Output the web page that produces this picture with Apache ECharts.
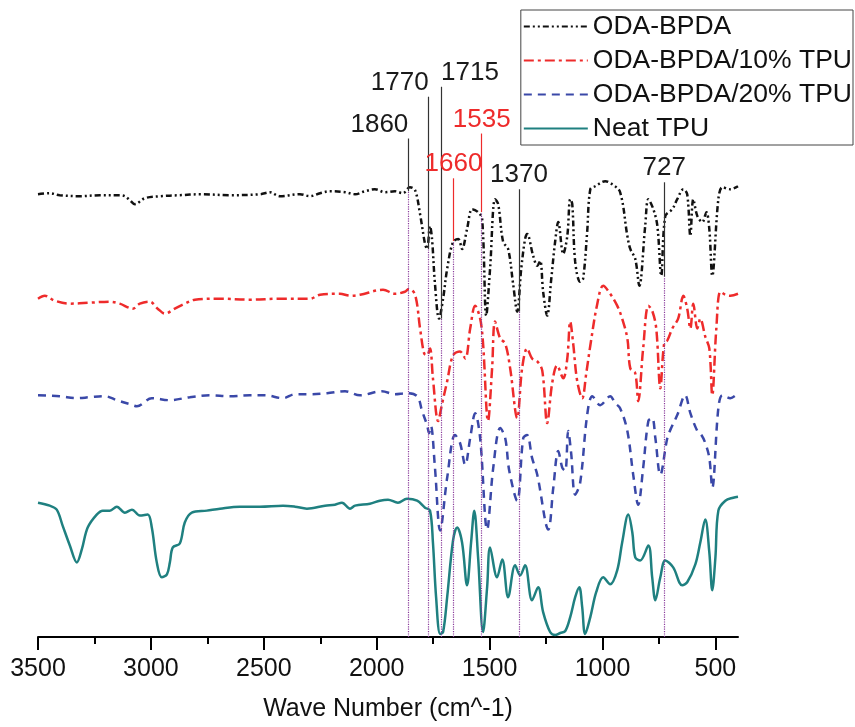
<!DOCTYPE html>
<html style="height: 100%">
  <head>
    <meta charset="utf-8" />
  </head>
  <body style="height: 100%; margin: 0; background: #fff">
    <div id="container" style="width: 855px; height: 727px"></div>
    <script
      type="text/javascript"
      src="https://cdn.jsdelivr.net/npm/echarts@6.0.0/dist/echarts.min.js"
    ></script>

    <script type="text/javascript">
      var FONT = '"Liberation Sans", Arial, sans-serif';

      var seriesNames = ["ODA-BPDA", "ODA-BPDA/10% TPU", "ODA-BPDA/20% TPU", "Neat TPU"];

      // [wave number, offset transmittance]
      // prettier-ignore
      var odaBpda = [[3500,89],[3448,89.2],[3404,88.8],[3315,88.6],[3226,88.8],[3138,88.8],[3115,88.6],[3093,87.8],[3071,87],[3027,88.2],[2960,88.6],[2872,88.8],[2783,89],[2650,88.8],[2517,89],[2473,89.4],[2429,88.6],[2340,89],[2296,88.6],[2251,89.2],[2207,89.6],[2140,89.4],[2096,89],[2052,89.6],[2008,90],[1963,89.4],[1919,89.6],[1884,89.2],[1853,90.4],[1830,89.8],[1808,85],[1786,79],[1777,78],[1764,82.6],[1755,80],[1742,71],[1724,64],[1706,68],[1688,74],[1662,79.4],[1639,80],[1622,78],[1600,82],[1577,86],[1551,85.4],[1533,84],[1515,64.6],[1498,74],[1476,88],[1462,87],[1440,79.4],[1418,78],[1396,71],[1378,65.4],[1360,74],[1343,80],[1334,81],[1307,76.6],[1289,74.6],[1276,75.6],[1263,69.4],[1245,64.6],[1227,72],[1210,79.4],[1196,83.4],[1174,77],[1156,80.6],[1143,88],[1134,87],[1121,75.4],[1099,71.4],[1086,72],[1068,81.4],[1054,90],[1032,90.6],[988,91.6],[957,91],[922,89.4],[890,80.6],[877,78],[855,76],[837,70.6],[811,82.6],[797,88],[775,86],[757,82.6],[740,72.6],[722,84.6],[691,86],[669,88],[642,90],[625,89],[611,80.6],[598,88],[580,84.6],[558,83.4],[540,85.4],[527,82],[514,72.6],[487,88],[469,90.4],[434,90],[400,90.6]];
      // prettier-ignore
      var tpu10 = [[3500,68],[3470,68.6],[3426,67.6],[3359,67],[3271,67.2],[3182,67.4],[3138,67],[3080,66],[3049,67],[3005,67.4],[2970,66],[2938,65],[2894,66],[2850,67],[2805,67.8],[2694,68],[2562,67.8],[2429,68],[2296,68],[2251,68.8],[2163,69],[2118,68.6],[2074,68.8],[1972,69.8],[1919,69],[1875,69.4],[1857,70],[1830,68.8],[1808,62],[1790,57],[1777,56.6],[1764,58],[1751,52],[1728,43.4],[1710,47],[1688,51.4],[1662,56.6],[1631,57.4],[1608,56],[1586,62],[1564,66.6],[1542,64],[1529,59],[1507,43.4],[1489,54],[1476,63.4],[1453,60],[1431,59],[1409,54],[1378,44],[1356,54],[1334,58],[1312,56],[1289,55.4],[1267,53.6],[1245,43],[1223,51],[1201,54.6],[1174,52],[1156,56],[1143,63.4],[1130,59],[1112,51.4],[1090,48],[1072,53],[1054,58.6],[1023,67],[997,70.6],[966,69],[935,66.6],[913,64],[890,60],[877,54],[855,53],[842,47.4],[820,58],[797,66.6],[780,65.6],[762,62],[744,50],[727,59],[713,59.6],[691,62],[665,64],[642,68.6],[625,66],[611,62],[598,67],[580,62],[567,64],[545,60.4],[527,58],[514,48.6],[496,62],[478,69.4],[456,68.8],[434,68.6],[400,69]];
      // prettier-ignore
      var tpu20 = [[3500,48.6],[3404,48.4],[3328,48],[3271,48.2],[3204,48.4],[3151,47.6],[3093,46.8],[3062,46.4],[2996,48],[2916,47.6],[2828,48.2],[2739,48.6],[2650,48.4],[2562,48.6],[2495,48.6],[2415,48],[2362,48.8],[2296,48.8],[2220,49],[2140,49.4],[2074,48.6],[1977,49.4],[1919,48.8],[1870,49],[1821,48.4],[1799,45.4],[1777,42.6],[1768,41],[1760,42.4],[1742,34],[1719,21.4],[1688,32],[1653,40.6],[1631,39],[1608,34.6],[1586,40],[1564,45],[1542,40],[1511,21.6],[1484,34],[1453,42],[1431,40],[1413,33.4],[1378,27.4],[1351,40],[1334,40.6],[1312,36],[1289,32.6],[1240,21.6],[1218,30],[1196,37.4],[1178,34],[1165,33.4],[1152,41.4],[1139,37],[1121,28.6],[1099,31],[1068,44.6],[1045,48.4],[1010,46.6],[966,48.4],[944,47],[922,46],[890,41.4],[864,32.6],[842,26.6],[820,34],[797,43.4],[780,44],[766,40],[744,32.6],[713,40],[696,42],[669,44.6],[634,48.6],[611,45],[580,41.4],[562,40.6],[545,39],[527,36],[514,30],[487,46],[469,48.6],[434,48],[400,49]];
      // prettier-ignore
      var neatTpu = [[3500,27],[3448,26.4],[3417,25.6],[3391,22.4],[3359,18.4],[3328,15],[3306,17.6],[3280,22],[3240,24.6],[3213,25.4],[3182,25.4],[3151,26.2],[3115,25],[3084,25.6],[3049,24.4],[3014,24.6],[2996,22],[2974,15],[2952,12],[2929,12.6],[2916,15],[2903,18],[2872,18.8],[2850,23],[2819,25],[2752,25.4],[2694,25.8],[2606,26.2],[2517,26.2],[2415,26.4],[2362,26.2],[2309,25.8],[2229,26.4],[2185,26.6],[2154,27],[2118,25.8],[2096,26.4],[2030,26.8],[1986,27.4],[1950,27.6],[1906,27],[1866,27.8],[1821,27.4],[1786,26],[1764,25.4],[1751,19],[1737,8],[1719,0.6],[1706,1],[1688,8],[1662,19.4],[1644,22],[1622,19],[1600,10.4],[1582,19],[1568,25.4],[1551,16],[1529,1],[1511,10],[1498,18],[1467,12],[1444,15.6],[1418,8],[1387,14.4],[1365,12.4],[1343,14.4],[1312,7.4],[1285,10],[1263,5],[1232,1],[1210,0.4],[1187,0.8],[1165,1.2],[1143,4],[1121,8],[1103,10],[1090,6],[1077,0.6],[1054,4],[1028,9],[997,12],[966,10.6],[935,13.4],[913,19],[886,24.6],[868,21],[855,16],[833,15.4],[797,18.4],[780,12],[766,7.4],[744,12],[722,15.4],[687,14],[647,10.4],[625,11],[589,14.6],[567,19],[545,23.6],[527,17],[514,9.4],[500,16],[487,25.4],[456,27.4],[421,28],[400,28.2]];

      var tickValues = [500, 1000, 1500, 2000, 2500, 3000, 3500];
      var minorTickValues = [750, 1250, 1750, 2250, 2750, 3250];

      // assigned peaks: position, top of the pointer line, where the dotted guide starts
      var peakWave = [1860, 1770, 1715, 1660, 1535, 1370, 727];
      var peakTop = [100.2, 108.6, 110.6, 92.2, 101.2, 90, 91.4];
      var peakBase = [89.6, 78, 64, 79.6, 85.4, 65.4, 72.4];
      var peakRed = [false, false, false, true, true, false, false];

      var labelAlign = { 1860: "right", 1770: "right", 1715: "left" };

      function pointerLines(red) {
        var out = [];
        for (var i = 0; i < peakWave.length; i++) {
          if (peakRed[i] !== red) continue;
          out.push([
            {
              coord: [peakWave[i], peakBase[i]],
              label: { align: labelAlign[peakWave[i]] || "center" },
            },
            { coord: [peakWave[i], peakTop[i]] },
          ]);
        }
        return out;
      }

      function guideLines() {
        var out = [];
        for (var i = 0; i < peakWave.length; i++) {
          out.push([{ coord: [peakWave[i], 0] }, { coord: [peakWave[i], peakBase[i]] }]);
        }
        return out;
      }

      function pointerMark(lineColor, textColor, red) {
        return {
          silent: true,
          symbol: ["none", "none"],
          lineStyle: { color: lineColor, width: 1.2, type: "solid" },
          label: {
            show: true,
            position: "end",
            distance: 1,
            formatter: function (p) {
              return String(p.data.coord ? p.data.coord[0] : p.value);
            },
            color: textColor,
            fontSize: 26,
            fontFamily: FONT,
          },
          emphasis: { disabled: true },
          data: pointerLines(red),
        };
      }

      var colors = ["#111111", "#ee2b2b", "#3a48a8", "#1f8080"];
      var dashes = [[6, 3, 2, 3, 2, 3], [10, 4, 3, 4], [8, 6], "solid"];
      var datasets = [odaBpda, tpu10, tpu20, neatTpu];

      var series = datasets.map(function (d, i) {
        return {
          name: seriesNames[i],
          type: "line",
          data: d,
          smooth: 0.35,
          showSymbol: false,
          symbol: "none",
          lineStyle: { color: colors[i], width: 2.5, type: dashes[i] },
          itemStyle: { color: colors[i] },
          z: 3,
        };
      });

      series[0].markLine = pointerMark("#333333", "#1a1a1a", false);
      series[1].markLine = pointerMark("#ee2b2b", "#ee2b2b", true);
      series[3].markLine = {
        silent: true,
        symbol: ["none", "none"],
        lineStyle: { color: "#8a3c9c", width: 1.2, type: "dotted" },
        label: { show: false },
        emphasis: { disabled: true },
        data: guideLines(),
      };

      var option = {
        animation: false,
        backgroundColor: "#fff",
        grid: { left: 38, right: 117, top: 40, bottom: 87 },
        legend: {
          orient: "vertical",
          right: 2,
          top: 10,
          itemWidth: 64,
          itemHeight: 14,
          itemGap: 7,
          padding: [3, 1, 3, 2],
          borderColor: "#444",
          borderWidth: 1,
          itemStyle: { opacity: 0 },
          textStyle: { fontSize: 26.5, fontFamily: FONT, color: "#111" },
          data: seriesNames,
        },
        xAxis: [
          {
            type: "value",
            inverse: true,
            min: 400,
            max: 3500,
            position: "bottom",
            name: "Wave Number (cm^-1)",
            nameLocation: "middle",
            nameGap: 60,
            nameTextStyle: { fontSize: 25, fontFamily: FONT, color: "#111" },
            axisLine: { show: true, lineStyle: { color: "#000", width: 2 } },
            axisTick: {
              show: true,
              length: 13,
              customValues: tickValues,
              lineStyle: { color: "#000", width: 2 },
            },
            axisLabel: {
              customValues: tickValues,
              margin: 20,
              fontSize: 25,
              fontFamily: FONT,
              color: "#111",
              formatter: function (v) {
                return String(v);
              },
            },
            splitLine: { show: false },
          },
          {
            type: "value",
            inverse: true,
            min: 400,
            max: 3500,
            position: "bottom",
            axisLine: { show: false },
            axisTick: {
              show: true,
              length: 7,
              customValues: minorTickValues,
              lineStyle: { color: "#000", width: 2 },
            },
            axisLabel: { show: false },
            splitLine: { show: false },
          },
        ],
        yAxis: {
          type: "value",
          min: 0,
          max: 120,
          show: false,
          splitLine: { show: false },
        },
        series: series,
      };

      var chart = echarts.init(document.getElementById("container"));
      chart.setOption(option);
    </script>
  </body>
</html>
